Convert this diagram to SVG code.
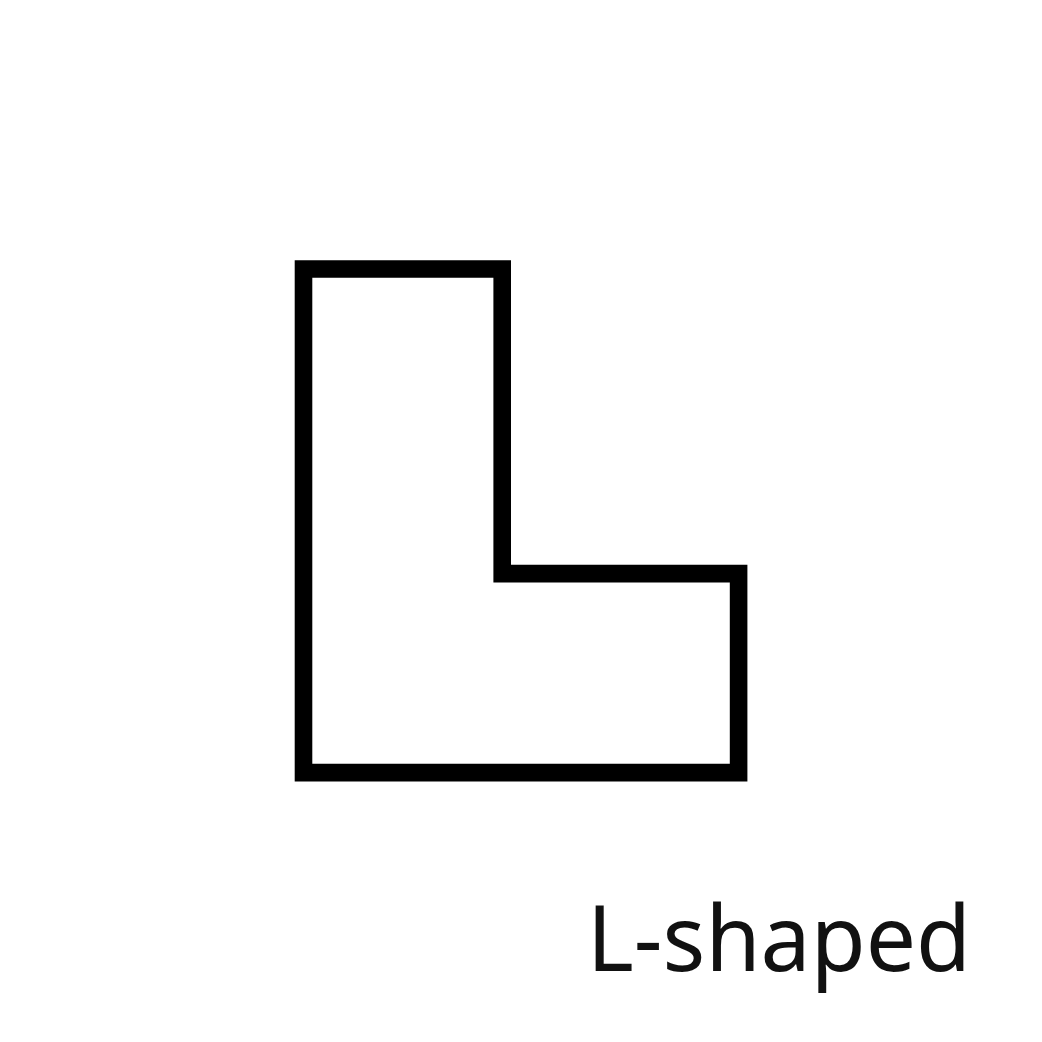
<svg xmlns="http://www.w3.org/2000/svg" width="1042" height="1042" viewBox="0 0 1042 1042">
<style>
.shape{fill:none;stroke:#000;stroke-width:17.6;stroke-linejoin:miter}
.label{font-family:"Noto Sans","Open Sans",sans-serif;font-size:92px;fill:#111}
</style>
<rect width="1042" height="1042" fill="#fff"/>
<g id="l-shape">
<path class="shape" d="M303.5,269 H502.2 V573.6 H738.6 V772.6 H303.5 Z"/>
</g>
<g id="caption">
<text class="label" x="587" y="971" textLength="384" lengthAdjust="spacingAndGlyphs">L-shaped</text>
</g>
</svg>
